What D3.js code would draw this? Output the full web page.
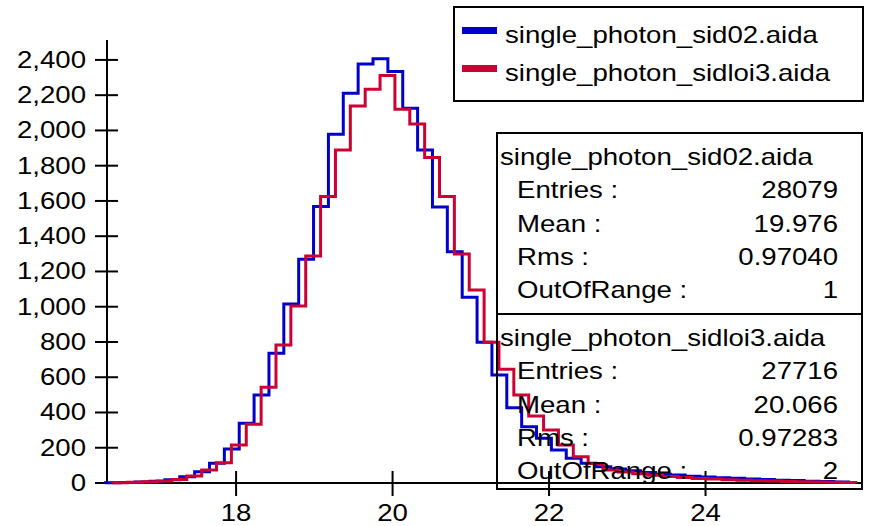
<!DOCTYPE html>
<html>
<head>
<meta charset="utf-8">
<script src="https://cdn.jsdelivr.net/npm/d3@7"></script>
<style>
  body { margin: 0; background: #fff; }
  svg { display: block; }
  text { font-family: "Liberation Sans", Arial, sans-serif; font-size: 23px; fill: #000; }
</style>
</head>
<body>
<div id="chart"></div>
<script>
// Histogram data (50 bins each, bin width 0.19)
const seriesNames = ["single_photon_sid02.aida", "single_photon_sidloi3.aida"];
const seriesColors = ["#0000cc", "#cc0033"];
const binStarts = [16.33, 16.42];
const binWidth = 0.19;

const blueCounts = [2, 3, 6, 10, 18, 36, 64, 112, 193, 339,
    499, 736, 1016, 1269, 1568, 1978, 2211, 2377, 2406, 2334,
    2126, 1889, 1566, 1312, 1054, 798, 613, 427, 319, 254,
    187, 140, 112, 92, 80, 70, 60, 50, 45, 38,
    34, 30, 27, 22, 20, 16, 14, 10, 8, 5];
const redCounts = [2, 4, 7, 12, 20, 40, 74, 115, 216, 333,
    543, 783, 1004, 1288, 1625, 1889, 2139, 2234, 2311, 2120,
    2037, 1846, 1625, 1299, 1095, 798, 645, 499, 380, 301,
    216, 149, 110, 74, 62, 52, 44, 37, 31, 26,
    22, 19, 16, 13, 11, 9, 7, 6, 4, 3];

const statLabels = ["Entries :", "Mean :", "Rms :", "OutOfRange :"];
const blueStats = ["28079", "19.976", "0.97040", "1"];
const redStats = ["27716", "20.066", "0.97283", "2"];

const xTicks = [18, 20, 22, 24];
const yTicks = [0, 200, 400, 600, 800, 1000, 1200, 1400, 1600, 1800, 2000, 2200, 2400];

const width = 869, height = 526;
const stretch = 1.2;  // text in the picture is a bit wider than plain Arial

const svg = d3.select("#chart").append("svg")
    .attr("width", width)
    .attr("height", height);

const x = d3.scaleLinear().domain([16.35, 26.0]).range([107, 862]);
const y = d3.scaleLinear().domain([0, 2513]).range([483, 40]);

// put a stretched text at (px, py)
function label(g, str, px, py, anchor) {
    return g.append("text")
        .attr("transform", `translate(${px},${py}) scale(${stretch},1)`)
        .attr("text-anchor", anchor || "start")
        .text(str);
}

// axes
const axes = svg.append("g");
axes.append("line")
    .attr("x1", x.range()[0]).attr("x2", x.range()[0])
    .attr("y1", y.range()[0]).attr("y2", y.range()[1])
    .attr("stroke", "#000").attr("stroke-width", 2);
axes.append("line")
    .attr("x1", x.range()[0]).attr("x2", x.range()[1])
    .attr("y1", y.range()[0]).attr("y2", y.range()[0])
    .attr("stroke", "#000").attr("stroke-width", 2);

axes.selectAll(".ytick").data(yTicks).join("line")
    .attr("class", "ytick")
    .attr("x1", x.range()[0] - 12).attr("x2", x.range()[0] + 11)
    .attr("y1", d => y(d)).attr("y2", d => y(d))
    .attr("stroke", "#000").attr("stroke-width", 2);
yTicks.forEach(d => label(axes, d3.format(",")(d), 86, y(d) + 8, "end"));

axes.selectAll(".xtick").data(xTicks).join("line")
    .attr("class", "xtick")
    .attr("x1", d => x(d)).attr("x2", d => x(d))
    .attr("y1", y(0) - 12).attr("y2", y(0) + 13)
    .attr("stroke", "#000").attr("stroke-width", 2);
xTicks.forEach(d => label(axes, d, x(d), 521, "middle"));

// step outline of a histogram
function stepPoints(start, counts) {
    const pts = [[start, 0]];
    counts.forEach((c, i) => pts.push([start + i * binWidth, c]));
    const end = start + counts.length * binWidth;
    pts.push([end, counts[counts.length - 1]]);
    pts.push([end, 0]);
    return pts;
}

const line = d3.line()
    .x(d => x(d[0]))
    .y(d => y(d[1]))
    .curve(d3.curveStepAfter);

[blueCounts, redCounts].forEach((counts, k) => {
    svg.append("path")
        .attr("d", line(stepPoints(binStarts[k], counts)))
        .attr("fill", "none")
        .attr("stroke", seriesColors[k])
        .attr("stroke-width", 3);
});

// statistics boxes
const boxes = [
    {top: 133, bottom: 314, stats: blueStats},
    {top: 314, bottom: 489, stats: redStats}
];
const statsG = svg.append("g");
boxes.forEach((b, k) => {
    statsG.append("rect")
        .attr("x", 497).attr("y", b.top)
        .attr("width", 365).attr("height", b.bottom - b.top)
        .attr("fill", "none").attr("stroke", "#000").attr("stroke-width", 2);
    const base = b.top + 32;
    label(statsG, seriesNames[k], 500, base);
    statLabels.forEach((s, i) => {
        label(statsG, s, 517, base + 33.3 * (i + 1));
        label(statsG, b.stats[i], 838, base + 33.3 * (i + 1), "end");
    });
});

// legend
const legend = svg.append("g");
legend.append("rect")
    .attr("x", 454).attr("y", 7)
    .attr("width", 409).attr("height", 94)
    .attr("fill", "#fff").attr("stroke", "#000").attr("stroke-width", 2);
seriesNames.forEach((name, k) => {
    const base = 43 + k * 38;
    legend.append("rect")
        .attr("x", 462).attr("y", base - 16)
        .attr("width", 35).attr("height", 7)
        .attr("fill", seriesColors[k]);
    label(legend, name, 505, base);
});
</script>
</body>
</html>
